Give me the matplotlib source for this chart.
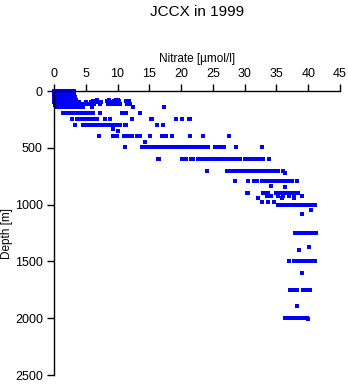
import matplotlib
matplotlib.use("Agg")
import matplotlib.pyplot as plt

plt.rcParams['font.family'] = ['Liberation Sans', 'DejaVu Sans']

# nitrate [umol/l], grouped by sample depth [m]
depths = [0, 10, 20, 30, 40, 50, 60, 75, 90, 100, 115, 125, 140, 195, 250, 295,
          337, 355, 400, 450, 497, 600, 700, 725, 795, 840, 848, 900, 925, 944, 974,
          1000, 1050, 1080, 1250, 1376, 1400, 1500, 1605, 1750, 1893, 2000, 2010]

no3_0 = [0.0, 0.1, 0.2, 0.4, 0.6, 0.8, 1.0, 1.3, 1.6, 2.0, 2.4, 2.8, 3.1]
no3_10 = [0.0, 0.2, 0.3, 0.5, 0.7, 0.9, 1.2, 1.5, 1.8, 2.2, 2.6, 3.0]
no3_20 = [0.0, 0.1, 0.3, 0.6, 0.9, 1.1, 1.4, 1.9, 2.3, 2.7, 3.2]
no3_30 = [0.0, 0.2, 0.4, 0.7, 1.0, 1.3, 1.7, 2.1, 2.5, 2.9]
no3_40 = [0.0, 0.3, 0.5, 0.8, 1.1, 1.5, 2.0, 2.4]
no3_50 = [0.0, 0.1, 0.3, 0.6, 0.9, 1.2, 1.6, 2.2, 2.6, 3.3]
no3_60 = [0.0, 0.2, 0.5, 0.8, 1.0, 1.3, 1.8, 2.3, 2.9]
no3_75 = [0.0, 0.3, 0.6, 0.9, 1.2, 1.5, 2.0, 2.7, 3.5, 6.8, 8.6, 9.8, 10.1]
no3_90 = [0.0, 0.2, 0.4, 0.8, 1.1, 1.4, 1.9, 2.5, 3.0, 6.2, 8.3, 9.5, 10.3, 11.4, 11.8]
no3_100 = [0.0, 0.3, 0.6, 1.0, 1.3, 1.8, 2.4, 3.2, 4.0, 5.0, 5.9, 6.6, 7.4, 8.9, 9.9]
no3_115 = [0.1, 0.5, 1.0, 1.5, 2.0, 2.6, 3.3, 3.8, 4.3, 4.8, 5.2, 5.8, 6.3, 7.3, 8.5,
           9.0, 9.5, 10.0, 10.4, 11.5, 12.0]
no3_125 = [0.2, 0.6, 1.1, 1.7, 2.2, 2.8, 3.4, 4.1, 4.6]
no3_140 = [0.5, 1.0, 1.5, 2.0, 2.5, 3.0, 3.5, 4.0, 4.5, 6.0, 12.4, 17.3]
no3_195 = [1.4, 1.8, 2.2, 2.6, 3.0, 3.4, 3.8, 4.2, 4.6, 5.0, 5.4, 5.8, 6.2, 7.2, 10.7,
           11.4, 13.5]
no3_250 = [2.8, 3.7, 4.0, 4.3, 4.6, 4.9, 5.2, 5.5, 5.8, 6.1, 6.4, 6.7, 8.0, 8.8, 12.3,
           15.3, 15.5, 19.2, 20.1, 21.2, 21.4]
no3_295 = [3.3, 4.6, 4.9, 5.2, 5.5, 5.8, 6.1, 6.4, 6.7, 7.0, 7.3, 7.6, 7.9, 8.2, 8.5,
           8.8, 9.1, 9.4, 9.7, 10.0, 10.4, 11.2, 11.4, 16.2, 17.1]
no3_337 = [9.3]
no3_355 = [10.1]
no3_400 = [7.1, 9.3, 9.6, 9.9, 11.0, 11.3, 11.6, 12.0, 12.3, 13.0, 13.5, 15.1, 17.0,
           17.7, 18.5, 21.4, 23.5, 27.6]
no3_450 = [14.4]
no3_497 = [11.1, 13.8, 14.1, 14.4, 14.7, 15.0, 15.3, 15.6, 15.9, 16.2, 16.5, 16.8,
           17.1, 17.4, 17.7, 18.0, 18.3, 18.6, 19.0, 19.3, 19.6, 19.9, 20.2, 20.5,
           20.8, 21.1, 21.4, 21.7, 22.0, 22.3, 22.6, 22.9, 23.2, 23.5, 23.8, 24.2,
           25.4, 25.7, 26.0, 26.3, 26.7, 28.6, 32.7]
no3_600 = [16.3, 16.6, 20.1, 20.4, 20.8, 21.5, 21.8, 22.7, 23.3, 23.6, 23.9, 24.2,
           24.5, 24.8, 25.1, 25.4, 25.7, 26.0, 26.3, 26.6, 26.9, 27.2, 27.5, 27.8,
           28.1, 28.4, 28.7, 29.0, 29.3, 30.0, 30.4, 30.8, 31.3, 31.6, 31.9, 32.2,
           32.5, 32.9, 33.9]
no3_700 = [24.0, 27.2, 27.5, 27.7, 28.3, 28.6, 28.9, 29.2, 29.5, 29.8, 30.1, 30.4,
           30.7, 31.0, 31.3, 31.6, 31.9, 32.2, 32.5, 32.8, 33.1, 33.4, 33.7, 34.0,
           34.3, 34.5, 35.0, 35.3, 36.1]
no3_725 = [36.3]
no3_795 = [28.5, 30.6, 31.4, 31.6, 31.9, 32.7, 33.0, 33.3, 33.6, 33.9, 34.2, 34.5,
           34.8, 35.1, 35.4, 35.7, 36.0, 36.3, 36.6, 36.9, 37.2, 37.4, 38.3]
no3_840 = [34.2]
no3_848 = [36.4]
no3_900 = [30.3, 30.5, 32.9, 33.2, 33.5, 33.7, 35.0, 35.3, 35.6, 35.8, 36.3, 36.6,
           36.9, 37.2, 37.5, 37.8, 38.1, 38.4]
no3_925 = [33.5, 34.1, 35.3, 36.1, 37.0, 37.8, 39.0]
no3_944 = [32.1, 35.9, 37.8]
no3_974 = [32.8, 33.6, 34.6]
no3_1000 = [35.3, 35.6, 35.9, 36.2, 36.5, 36.8, 37.1, 37.4, 37.7, 38.0, 38.3, 38.6,
            38.9, 39.2, 39.8, 40.1, 40.4, 40.7, 41.1]
no3_1050 = [40.4]
no3_1080 = [39.0]
no3_1250 = [38.0, 38.3, 38.6, 38.9, 39.2, 39.5, 39.8, 40.1, 40.4, 40.7, 41.0, 41.3]
no3_1376 = [40.1]
no3_1400 = [38.6]
no3_1500 = [37.0, 37.7, 38.0, 38.3, 38.6, 38.9, 39.2, 39.5, 39.8, 40.1, 40.4, 40.7,
            41.1]
no3_1605 = [39.0]
no3_1750 = [37.1, 37.4, 37.7, 38.0, 38.2, 39.2, 39.5, 39.8, 40.1, 40.3]
no3_1893 = [38.3]
no3_2000 = [36.3, 36.6, 36.9, 37.2, 37.5, 37.7, 38.1, 38.4, 38.7, 39.0, 39.3, 39.6,
            39.8]
no3_2010 = [39.9]

profiles = [no3_0, no3_10, no3_20, no3_30, no3_40, no3_50, no3_60, no3_75, no3_90,
            no3_100, no3_115, no3_125, no3_140, no3_195, no3_250, no3_295, no3_337,
            no3_355, no3_400, no3_450, no3_497, no3_600, no3_700, no3_725, no3_795,
            no3_840, no3_848, no3_900, no3_925, no3_944, no3_974, no3_1000, no3_1050,
            no3_1080, no3_1250, no3_1376, no3_1400, no3_1500, no3_1605, no3_1750,
            no3_1893, no3_2000, no3_2010]

x = []
y = []
for d, vals in zip(depths, profiles):
    x += vals
    y += [d] * len(vals)

fig = plt.figure(figsize=(3.48, 3.84), dpi=100)
ax = fig.add_axes([0.155, 0.0234, 0.822, 0.7396])

ax.plot(x, y, 's', color='#0000ff', markersize=2.2, markeredgewidth=0,
        clip_on=False)

ax.set_xlim(0, 45)
ax.set_ylim(2500, 0)
ax.set_xticks(range(0, 50, 5))
ax.set_yticks(range(0, 3000, 500))

ax.xaxis.tick_top()
ax.xaxis.set_label_position('top')
ax.spines['right'].set_visible(False)
ax.spines['bottom'].set_visible(False)
for s in ['top', 'left']:
    ax.spines[s].set_linewidth(1)
ax.tick_params(axis='both', direction='out', length=5, width=1, labelsize=9,
               pad=3)

ax.set_xlabel('Nitrate [µmol/l]', fontsize=8.5, labelpad=4)
ax.set_ylabel('Depth [m]', fontsize=8.5, labelpad=1)
ax.set_title('JCCX in 1999', fontsize=11, pad=54)

fig.savefig('out.png', dpi=100)
